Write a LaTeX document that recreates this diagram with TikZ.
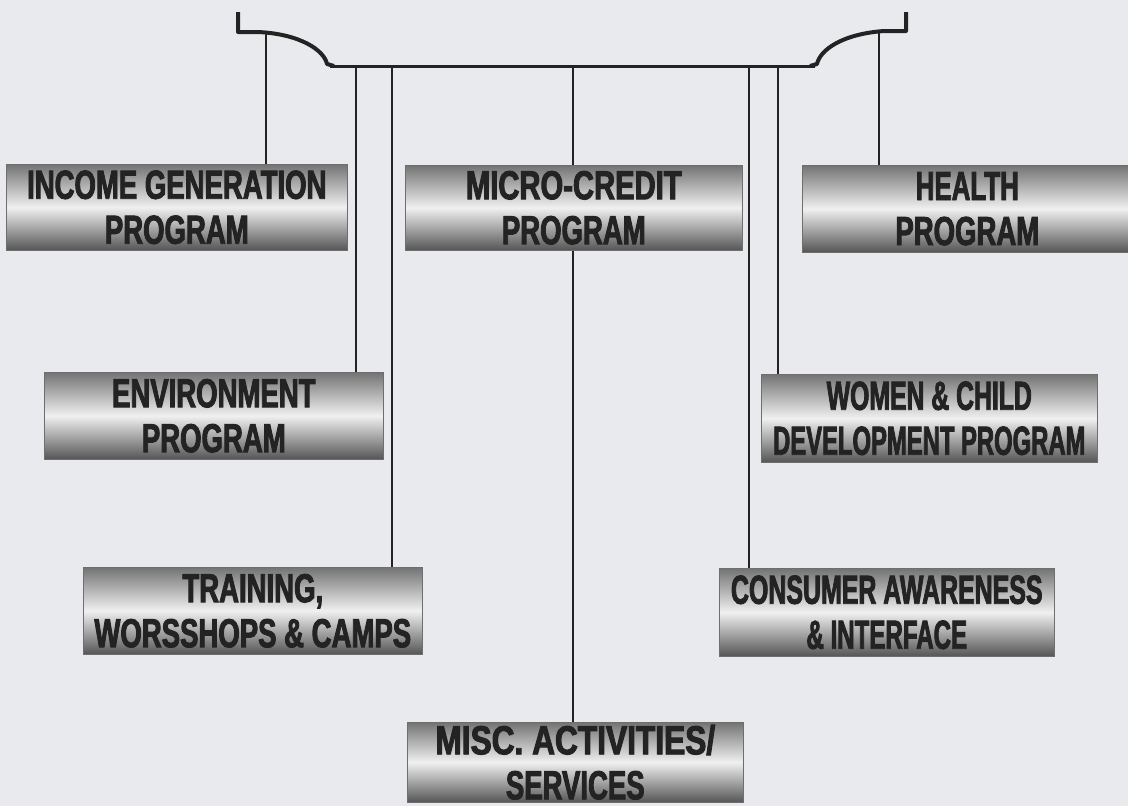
\documentclass[tikz,border=0pt]{standalone}
\usepackage{graphicx}
\usepackage{fontspec}
\setmainfont{Liberation Sans}[FakeStretch=0.68, BoldFeatures={FakeBold=2.2}]
\newcommand\hsq[2]{\scalebox{#1}[1]{#2}}
\definecolor{bgc}{RGB}{233,234,238}
\definecolor{inkc}{RGB}{35,35,35}
\definecolor{edgec}{RGB}{110,110,110}
\definecolor{shtop}{RGB}{115,115,115}
\definecolor{shmid}{RGB}{240,240,240}
\definecolor{shbot}{RGB}{85,85,85}
\begin{document}
\begin{tikzpicture}[x=1pt,y=-1pt,
  progbox/.style={anchor=north west, inner sep=0pt, draw=edgec, line width=0.6pt,
    top color=shtop, bottom color=shbot, middle color=shmid,
    align=center, text=inkc, font=\bfseries\fontsize{40.5}{45}\selectfont},
  bracketline/.style={line width=4pt, draw=inkc},
  mainline/.style={line width=3pt, draw=inkc},
  conn/.style={line width=2.2pt, draw=inkc}]
\useasboundingbox (0,0) rectangle (1128,806);
\fill[bgc] (0,0) rectangle (1128,806);
\clip (0,0) rectangle (1128,806);
% bracket
\draw[bracketline, line join=round] (238,12) -- (238,32) -- (258,32)
  .. controls (300,34) and (324,50) .. (327,64) -- (334,66);
\draw[bracketline, line join=round] (906,12) -- (906,31) -- (884,31)
  .. controls (842,34) and (820,50) .. (817,64) -- (810,66);
\draw[mainline] (330,66) -- (815,66);
\coordinate (cinc) at (266,33);
\coordinate (chea) at (879,33);
\coordinate (cenv) at (356,66);
\coordinate (ctra) at (392,66);
\coordinate (cmic) at (573,66);
\coordinate (ccon) at (749,66);
\coordinate (cwom) at (778,66);
% boxes
\node[progbox, minimum width=341pt, minimum height=86pt] (inc) at (6,164) {INCOME GENERATION\\PROGRAM};
\node[progbox, minimum width=337pt, minimum height=85pt] (mic) at (405,165) {\hsq{1.06}{MICRO-CREDIT}\\PROGRAM};
\node[progbox, minimum width=330pt, minimum height=87pt] (hea) at (802,165) {\hsq{0.94}{HEALTH}\\PROGRAM};
\node[progbox, minimum width=339pt, minimum height=87pt] (env) at (44,372) {ENVIRONMENT\\PROGRAM};
\node[progbox, minimum width=336pt, minimum height=88pt] (wom) at (761,374) {\hsq{0.9}{WOMEN \& CHILD}\\\hsq{0.865}{DEVELOPMENT PROGRAM}};
\node[progbox, minimum width=339pt, minimum height=87pt] (tra) at (83,567) {TRAINING,\\WORSSHOPS \& CAMPS};
\node[progbox, minimum width=335pt, minimum height=88pt] (con) at (719,568) {\hsq{0.905}{CONSUMER AWARENESS}\\\hsq{0.875}{\& INTERFACE}};
\node[progbox, minimum width=336pt, minimum height=80pt] (mis) at (407,722) {\hsq{1.15}{MISC. ACTIVITIES/}\\SERVICES};
% connectors
\draw[conn] (cinc) -- (cinc |- inc.north);
\draw[conn] (chea) -- (chea |- hea.north);
\draw[conn] (cenv) -- (cenv |- env.north);
\draw[conn] (ctra) -- (ctra |- tra.north);
\draw[conn] (cmic) -- (cmic |- mic.north);
\draw[conn] (ccon) -- (ccon |- con.north);
\draw[conn] (cwom) -- (cwom |- wom.north);
\draw[conn] (mic.south -| cmic) -- (mis.north -| cmic);
\end{tikzpicture}
\end{document}
